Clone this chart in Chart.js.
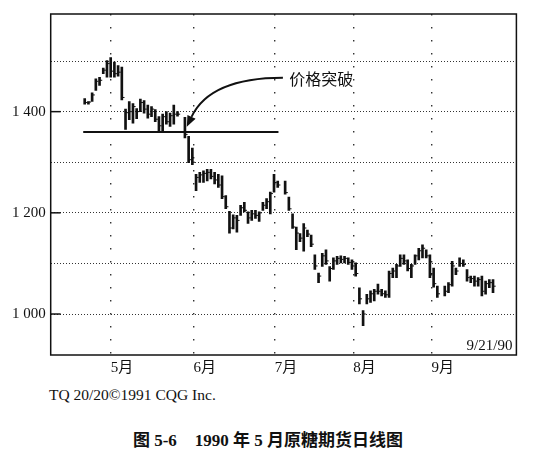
<!DOCTYPE html>
<html>
<head>
<meta charset="utf-8">
<script src="https://cdn.jsdelivr.net/npm/chart.js@4"></script>
<style>
html,body{margin:0;padding:0;background:#fff;}
#wrap{position:relative;width:536px;height:449px;overflow:hidden;}
#c{position:absolute;left:0;top:0;}
.foot{position:absolute;left:49px;top:386px;font-family:"Liberation Serif",serif;font-size:15.5px;color:#111;white-space:nowrap;}
.cap{position:absolute;left:0;width:536px;top:426px;text-align:center;font-family:"Liberation Serif","Noto Sans CJK SC",serif;font-weight:bold;font-size:17px;color:#111;white-space:nowrap;}
</style>
</head>
<body>
<div id="wrap">
<canvas id="c" width="536" height="380"></canvas>
<div class="foot">TQ 20/20©1991 CQG Inc.</div>
<div class="cap">图 5-6<span style="display:inline-block;width:18px"></span>1990 年 5 月原糖期货日线图</div>
</div>
<script>
// Daily sugar futures, trading-day slots from 1990-04-20 to 1990-09-21 (null = holiday)
const highs = [1426,1420,1437,1465,1468,1486,1501,1507,1498,1491,1488,1405,1420,1416,1406,1425,1422,1413,1410,1404,
  1390,1395,1400,1397,1413,1400,null,1389,1351,1328,1276,1280,1283,1286,1286,1280,1276,1273,1234,1203,
  1196,1195,1215,1221,1202,1205,1205,1202,1221,1228,1241,1276,1263,null,1263,1231,1198,1172,1159,1179,
  1166,1156,1117,1081,1120,1127,1094,1111,1114,1115,1114,1111,1107,1101,1052,1007,1039,1046,1049,1059,
  1049,1046,1085,1091,1098,1117,1117,1107,1098,1117,1130,1137,1127,1117,1091,1055,null,1055,1062,1104,
  1091,1111,1107,1088,1075,1075,1072,1075,1065,1068,1068];
const lows = [1415,1415,1420,1442,1452,1475,1468,1468,1468,1470,1423,1365,1384,1377,1386,1400,1397,1387,1390,1380,
  1362,1361,1375,1371,1375,1391,null,1348,1299,1295,1244,1260,1260,1263,1267,1257,1250,1228,1208,1160,
  1168,1162,1195,1202,1179,1185,1189,1183,1205,1208,1198,1241,1250,null,1237,1205,1169,1127,1143,1124,
  1153,1133,1088,1062,1094,1098,1065,1088,1098,1101,1101,1098,1088,1075,1020,977,1020,1023,1026,1039,
  1036,1033,1033,1072,1072,1094,1098,1085,1072,1098,1107,1111,1111,1072,1053,1033,null,1036,1042,1055,
  1078,1094,1094,1065,1062,1055,1055,1036,1039,1052,1042];
const closes = [1418,1419,1433,1460,1462,1482,1495,1480,1475,1478,1428,1398,1400,1410,1400,1418,1405,1395,1405,1385,
  1372,1390,1380,1392,1395,1395,null,1355,1305,1300,1270,1275,1278,1280,1272,1265,1255,1232,1212,1170,
  1190,1185,1210,1205,1190,1198,1195,1200,1215,1222,1238,1260,1255,null,1240,1208,1172,1160,1150,1170,
  1158,1138,1095,1075,1115,1105,1090,1105,1110,1108,1110,1102,1095,1080,1030,1000,1030,1040,1045,1045,
  1040,1038,1080,1085,1095,1110,1105,1090,1095,1115,1125,1130,1115,1080,1060,1040,null,1045,1058,1095,
  1085,1100,1098,1072,1070,1065,1068,1045,1060,1062,1055];

// Month separators (in trading-day slots) and their labels
const monthLines = [7.1, 29.4, 51.3, 72.4, 93.5];
const monthLabels = ['5月','6月','7月','8月','9月'];

// Price axis
const yGrid = [1000, 1100, 1200, 1300, 1400, 1500];
const yLabelled = [1000, 1200, 1400];

// Annotation: support line, arrow and note
const supportLevel = 1360;
const supportFrom = -0.4, supportTo = 52.2;
const arrowStart = {x: 53.4, y: 1467};
const arrowCtrl = {x: 33.8, y: 1467};
const arrowTip = {x: 27.5, y: 1370};
const noteText = '价格突破';
const notePos = {x: 55.1, y: 1465};
const dateStamp = '9/21/90';

const barData = [], closeData = [];
highs.forEach((h, i) => {
  if (h == null) return;
  barData.push({x: i, y: [lows[i], h]});
  closeData.push({x: i + 0.4, y: closes[i]});
});

const fmt = v => String(v).replace(/\B(?=(\d{3})+(?!\d))/g, ' ');

const annot = {
  id: 'annot',
  afterDatasetsDraw(chart) {
    const {ctx, chartArea: a, scales: {x, y}} = chart;
    ctx.save();
    // support line
    ctx.strokeStyle = '#111';
    ctx.lineWidth = 2;
    ctx.beginPath();
    ctx.moveTo(x.getPixelForValue(supportFrom), y.getPixelForValue(supportLevel));
    ctx.lineTo(x.getPixelForValue(supportTo), y.getPixelForValue(supportLevel));
    ctx.stroke();
    // arrow
    const sx = x.getPixelForValue(arrowStart.x), sy = y.getPixelForValue(arrowStart.y);
    const cx = x.getPixelForValue(arrowCtrl.x), cy = y.getPixelForValue(arrowCtrl.y);
    const tx = x.getPixelForValue(arrowTip.x), ty = y.getPixelForValue(arrowTip.y);
    const ang = Math.atan2(ty - cy, tx - cx);
    const hl = 11, hw = 4.5;
    const bx = tx - hl * Math.cos(ang), by = ty - hl * Math.sin(ang);
    ctx.lineWidth = 1.9;
    ctx.beginPath();
    ctx.moveTo(sx, sy);
    ctx.quadraticCurveTo(cx, cy, bx, by);
    ctx.stroke();
    ctx.fillStyle = '#111';
    ctx.beginPath();
    ctx.moveTo(tx, ty);
    ctx.lineTo(bx + hw * Math.sin(ang), by - hw * Math.cos(ang));
    ctx.lineTo(bx - hw * Math.sin(ang), by + hw * Math.cos(ang));
    ctx.closePath();
    ctx.fill();
    // note text
    ctx.font = '16px "Noto Sans CJK SC"';
    ctx.textAlign = 'left';
    ctx.textBaseline = 'middle';
    ctx.fillText(noteText, x.getPixelForValue(notePos.x), y.getPixelForValue(notePos.y));
    // date stamp
    ctx.font = '15px "Liberation Serif"';
    ctx.textAlign = 'right';
    ctx.textBaseline = 'alphabetic';
    ctx.fillText(dateStamp, a.right - 4, a.bottom - 5);
    // inner ticks on labelled values
    ctx.lineWidth = 1.5;
    yLabelled.forEach(v => {
      const py = y.getPixelForValue(v);
      ctx.beginPath();
      ctx.moveTo(a.left, py);
      ctx.lineTo(a.left + 10, py);
      ctx.stroke();
    });
    // frame
    ctx.lineWidth = 1.5;
    ctx.strokeRect(a.left, a.top, a.right - a.left, a.bottom - a.top);
    ctx.restore();
  }
};

new Chart(document.getElementById('c'), {
  type: 'bar',
  data: {
    datasets: [
      {type: 'bar', data: barData, backgroundColor: '#111', borderWidth: 0, barThickness: 2},
      {type: 'scatter', data: closeData, pointStyle: 'line', radius: 1.2, borderColor: '#111', borderWidth: 1, showLine: false}
    ]
  },
  options: {
    responsive: false,
    animation: false,
    devicePixelRatio: 1,
    layout: {padding: {left: 0, right: 19.6, top: 9.3, bottom: 0}},
    plugins: {legend: {display: false}, tooltip: {enabled: false}},
    scales: {
      x: {
        type: 'linear', min: -9.16, max: 116.3, offset: false,
        grid: {offset: false, color: '#333', lineWidth: 1.4, drawTicks: false},
        border: {display: false, dash: [1.5, 11.5]},
        afterBuildTicks(s) { s.ticks = monthLines.map(v => ({value: v})); },
        afterFit(s) { s.height = 25; },
        ticks: {
          callback: (v, i) => monthLabels[i],
          color: '#111', padding: 4, labelOffset: 11, maxRotation: 0, autoSkip: false,
          font: {family: '"Liberation Serif", "Noto Sans CJK SC"', size: 15}
        }
      },
      y: {
        type: 'linear', min: 919, max: 1593, beginAtZero: false,
        grid: {color: '#333', lineWidth: 1, drawTicks: false},
        border: {display: false, dash: [1, 2]},
        afterBuildTicks(s) { s.ticks = yGrid.map(v => ({value: v})); },
        afterFit(s) { s.width = 50.7; },
        ticks: {
          callback: v => yLabelled.includes(v) ? fmt(v) : '',
          color: '#111', padding: 5, autoSkip: false,
          font: {family: '"Liberation Serif"', size: 15}
        }
      }
    }
  },
  plugins: [annot]
});
</script>
</body>
</html>
